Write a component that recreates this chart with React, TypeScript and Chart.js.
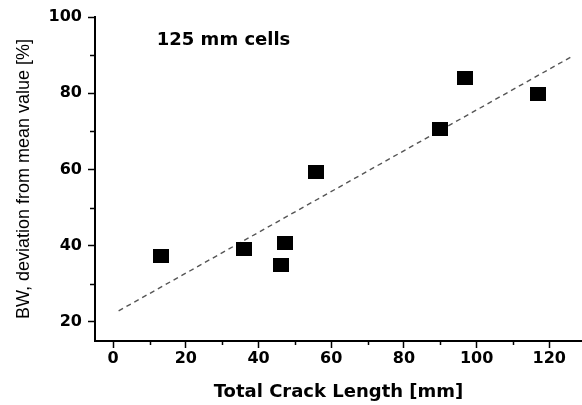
import React, { useEffect, useRef } from "react";
import { Chart, registerables } from "chart.js";

Chart.register(...registerables);

// Data
const crackLength = [13.1, 36.0, 47.2, 46.1, 55.9, 90.0, 96.9, 117.0];
const bwDeviation = [37.3, 39.1, 40.7, 34.9, 59.4, 70.6, 84.0, 79.9];
const fitX = [1.5, 126.5];
const fitY = [22.9, 89.8];
const xTickValues = [0, 10, 20, 30, 40, 50, 60, 70, 80, 90, 100, 110, 120];
const yTickValues = [20, 30, 40, 50, 60, 70, 80, 90, 100];
const annotationText = "125 mm cells";
const xTitle = "Total Crack Length [mm]";
const yTitle = "BW, deviation from mean value [%]";

const isMajor = (v: number) => v % 20 === 0;

export default function App() {
  const ref = useRef<HTMLCanvasElement | null>(null);

  useEffect(() => {
    const canvas = ref.current;
    if (!canvas) return;

    const marker = document.createElement("canvas");
    marker.width = 16;
    marker.height = 14;
    const mctx = marker.getContext("2d")!;
    mctx.fillStyle = "#000";
    mctx.fillRect(0, 0, 16, 14);

    const extras = {
      id: "extras",
      afterDraw(chart: any) {
        const { ctx, chartArea, scales } = chart;
        ctx.save();
        ctx.strokeStyle = "#000";
        ctx.lineWidth = 1.5;
        scales.x.ticks.forEach((t: any) => {
          if (isMajor(t.value)) return;
          const px = Math.round(scales.x.getPixelForValue(t.value)) + 0.5;
          ctx.beginPath();
          ctx.moveTo(px, chartArea.bottom);
          ctx.lineTo(px, chartArea.bottom + 4);
          ctx.stroke();
        });
        scales.y.ticks.forEach((t: any) => {
          if (isMajor(t.value)) return;
          const py = Math.round(scales.y.getPixelForValue(t.value)) + 0.5;
          ctx.beginPath();
          ctx.moveTo(chartArea.left - 5, py);
          ctx.lineTo(chartArea.left, py);
          ctx.stroke();
        });
        ctx.fillStyle = "#000";
        ctx.font = "bold 18px 'DejaVu Sans'";
        ctx.textAlign = "left";
        ctx.textBaseline = "middle";
        ctx.fillText(
          annotationText,
          scales.x.getPixelForValue(12),
          scales.y.getPixelForValue(94)
        );
        ctx.restore();
      },
    };

    const chart = new Chart(canvas, {
      type: "scatter",
      data: {
        datasets: [
          {
            label: "fit",
            data: fitX.map((x, i) => ({ x, y: fitY[i] })),
            showLine: true,
            borderColor: "#555",
            borderWidth: 1.4,
            borderDash: [5, 4],
            pointRadius: 0,
            order: 2,
          },
          {
            label: "cells",
            data: crackLength.map((x, i) => ({ x, y: bwDeviation[i] })),
            pointStyle: marker as any,
            pointRadius: 8,
            backgroundColor: "#000",
            borderColor: "#000",
            order: 1,
          },
        ],
      },
      options: {
        animation: false,
        responsive: false,
        devicePixelRatio: 1,
        layout: {
          autoPadding: false,
          padding: { top: 17, right: 0, bottom: 0, left: 0 },
        },
        plugins: {
          legend: { display: false },
          tooltip: { enabled: false },
        },
        scales: {
          x: {
            type: "linear",
            min: -5,
            max: 129,
            afterBuildTicks: (s: any) => {
              s.ticks = xTickValues.map((v) => ({ value: v }));
            },
            afterFit: (s: any) => {
              s.height = 64;
              s.paddingLeft = 0;
              s.paddingRight = 0;
            },
            ticks: {
              includeBounds: false,
              autoSkip: false,
              maxRotation: 0,
              padding: 1,
              color: "#000",
              font: { family: "'DejaVu Sans'", weight: "bold", size: 16 },
              callback: (v: any) => (isMajor(Number(v)) ? String(v) : ""),
            },
            grid: {
              display: true,
              drawOnChartArea: false,
              drawTicks: true,
              tickLength: 7,
              tickWidth: 1.5,
              tickColor: (c: any) =>
                c.tick && isMajor(c.tick.value) ? "#000" : "rgba(0,0,0,0)",
            },
            border: { display: true, color: "#000", width: 2 },
            title: {
              display: true,
              text: xTitle,
              color: "#000",
              font: { family: "'DejaVu Sans'", weight: "bold", size: 18 },
              padding: { top: 0, bottom: 2 },
            },
          },
          y: {
            type: "linear",
            min: 15,
            max: 100,
            afterBuildTicks: (s: any) => {
              s.ticks = yTickValues.map((v) => ({ value: v }));
            },
            afterFit: (s: any) => {
              s.width = 95;
            },
            ticks: {
              includeBounds: false,
              autoSkip: false,
              padding: 6,
              color: "#000",
              font: { family: "'DejaVu Sans'", weight: "bold", size: 16 },
              callback: (v: any) => (isMajor(Number(v)) ? String(v) : ""),
            },
            grid: {
              display: true,
              drawOnChartArea: false,
              drawTicks: true,
              tickLength: 7,
              tickWidth: 1.5,
              tickColor: (c: any) =>
                c.tick && isMajor(c.tick.value) ? "#000" : "rgba(0,0,0,0)",
            },
            border: { display: true, color: "#000", width: 2 },
            title: {
              display: true,
              text: yTitle,
              color: "#000",
              font: { family: "'Liberation Sans'", weight: "normal", size: 18 },
              padding: { top: 13, bottom: 0 },
            },
          },
        },
      },
      plugins: [extras],
    });

    return () => chart.destroy();
  }, []);

  return (
    <div
      style={{
        position: "fixed",
        left: 0,
        top: 0,
        width: 582,
        height: 405,
        background: "#fff",
      }}
    >
      <canvas ref={ref} width={582} height={405} style={{ display: "block" }} />
    </div>
  );
}
